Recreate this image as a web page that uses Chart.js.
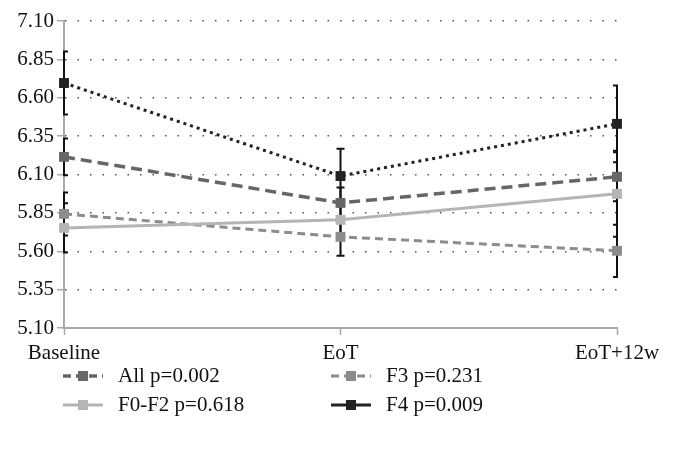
<!DOCTYPE html>
<html>
<head>
<meta charset="utf-8">
<script src="https://cdn.jsdelivr.net/npm/chart.js@4"></script>
<style>
  body { margin: 0; background: #fff; }
</style>
</head>
<body>
<canvas id="lineChart" width="674" height="457"></canvas>
<script>
const categories = ['Baseline', 'EoT', 'EoT+12w'];
const yTicks = [5.10, 5.35, 5.60, 5.85, 6.10, 6.35, 6.60, 6.85, 7.10];

const allVals = [6.215, 5.915, 6.085];
const allErr = [0.12, 0.10, 0.16];
const f02Vals = [5.752, 5.805, 5.974];
const f02Err = [0.16, 0.12, 0.28];
const f3Vals = [5.843, 5.694, 5.603];
const f3Err = [0.14, 0.124, 0.17];
const f4Vals = [6.696, 6.09, 6.43];
const f4Err = [0.205, 0.177, 0.25];

const FONT = { family: "'Liberation Serif', 'DejaVu Serif', serif", size: 21 };

// error bars drawn through the chart's own scales
const errorBars = {
  id: 'errorBars',
  beforeDatasetsDraw(chart) {
    const { ctx, chartArea, scales: { x, y } } = chart;
    ctx.save();
    ctx.beginPath();
    ctx.rect(chartArea.left - 1, 0, chartArea.width + 2, chart.height);
    ctx.clip();
    ctx.strokeStyle = '#111';
    ctx.lineWidth = 2;
    chart.data.datasets.forEach(ds => {
      ds.data.forEach((v, i) => {
        const px = x.getPixelForValue(i);
        const top = y.getPixelForValue(v + ds.err[i]);
        const bot = y.getPixelForValue(v - ds.err[i]);
        ctx.beginPath();
        ctx.moveTo(px, top); ctx.lineTo(px, bot);
        ctx.moveTo(px - 4, top); ctx.lineTo(px + 4, top);
        ctx.moveTo(px - 4, bot); ctx.lineTo(px + 4, bot);
        ctx.stroke();
      });
    });
    ctx.restore();
  }
};

// 2x2 legend like the original
const gridLegend = {
  id: 'gridLegend',
  afterDraw(chart) {
    const { ctx } = chart;
    const slots = [[63, 376], [63, 405], [331, 376], [331, 405]];
    chart.data.datasets.forEach((ds, i) => {
      const [lx, ly] = slots[i];
      ctx.save();
      ctx.strokeStyle = ds.borderColor;
      ctx.lineWidth = ds.borderWidth;
      ctx.setLineDash(ds.legendDash);
      ctx.beginPath();
      ctx.moveTo(lx, ly); ctx.lineTo(lx + 40, ly);
      ctx.stroke();
      ctx.setLineDash([]);
      ctx.fillStyle = ds.pointBackgroundColor;
      ctx.fillRect(lx + 15, ly - 5, 10, 10);
      ctx.fillStyle = '#111';
      ctx.font = FONT.size + 'px ' + FONT.family;
      ctx.textBaseline = 'middle';
      ctx.fillText(ds.label, lx + 55, ly);
      ctx.restore();
    });
  }
};

function series(label, data, err, color, dash, width, legendDash) {
  return {
    label, data, err, legendDash,
    borderColor: color,
    backgroundColor: color,
    pointBackgroundColor: color,
    pointBorderColor: color,
    borderWidth: width,
    borderDash: dash,
    pointStyle: 'rect',
    pointRadius: 7,
    pointBorderWidth: 0,
    tension: 0,
    fill: false
  };
}

const CHART = document.getElementById('lineChart');
let lineChart = new Chart(CHART, {
  type: 'line',
  data: {
    labels: categories,
    datasets: [
      series('All p=0.002', allVals, allErr, '#666666', [11, 6], 3.5, [8, 5]),
      series('F0-F2 p=0.618', f02Vals, f02Err, '#b5b5b5', [], 3, []),
      series('F3 p=0.231', f3Vals, f3Err, '#8c8c8c', [8, 5], 3, [8, 5]),
      series('F4 p=0.009', f4Vals, f4Err, '#222222', [3, 4], 3, [])
    ]
  },
  options: {
    responsive: false,
    animation: false,
    layout: { padding: { top: 21, right: 57, bottom: 80, left: 0 } },
    plugins: { legend: { display: false }, tooltip: { enabled: false } },
    scales: {
      x: {
        grid: { drawOnChartArea: false, drawTicks: true, tickLength: 7, tickColor: '#aaa', tickWidth: 1.5 },
        border: { color: '#aaa', width: 2 },
        ticks: { font: FONT, color: '#111', padding: 6, maxRotation: 0 },
        afterFit: s => { s.height = 49; }
      },
      y: {
        min: 5.1,
        max: 7.1,
        afterBuildTicks: s => { s.ticks = yTicks.map(v => ({ value: v })); },
        grid: { color: '#555', lineWidth: 1.5, tickLength: 7, tickColor: '#aaa', tickWidth: 1.5, tickBorderDash: [] },
        border: { color: '#aaa', width: 2, dash: [1.5, 11] },
        ticks: { font: FONT, color: '#111', padding: 3, callback: v => v.toFixed(2) },
        afterFit: s => { s.width = 64; }
      }
    }
  },
  plugins: [errorBars, gridLegend]
});
</script>
</body>
</html>
